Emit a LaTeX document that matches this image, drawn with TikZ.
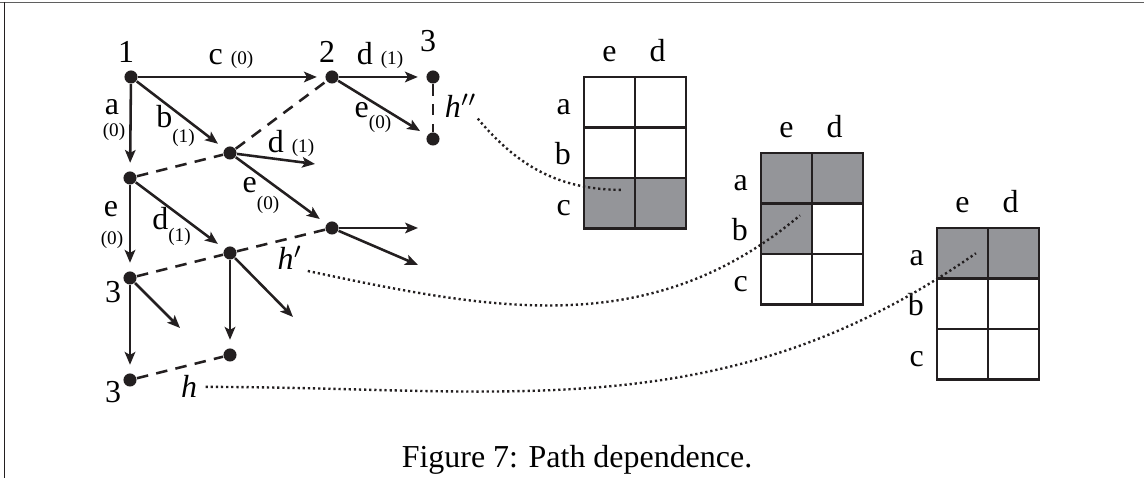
\documentclass[tikz,border=0pt]{standalone}
\usepackage{fontspec}
\setmainfont{Liberation Serif}
\usepackage{tikz}
\usetikzlibrary{positioning,arrows.meta,calc,backgrounds}
\definecolor{inkBlack}{RGB}{35,31,32}
\definecolor{cellGray}{RGB}{148,149,153}
\definecolor{frameGray}{RGB}{95,95,95}
\newcommand{\sm}[1]{{\fontsize{6}{7}\selectfont #1}}

\begin{document}
\begin{tikzpicture}[x=0.011cm, y=-0.011cm,
  statenode/.style={circle, fill=inkBlack, inner sep=0pt, minimum size=4.1pt},
  move/.style={-{Stealth[length=4pt,width=3.3pt,inset=0.9pt]}, line width=0.8pt, draw=inkBlack},
  movenode/.style={move, shorten >=2.5pt},
  link/.style={line width=0.8pt, draw=inkBlack, dash pattern=on 3.6pt off 2.6pt},
  trace/.style={line width=0.75pt, draw=inkBlack, dash pattern=on 0.7pt off 0.9pt},
  lbl/.style={font=\fontsize{10}{12}\selectfont, inner sep=0pt, anchor=base},
  sublbl/.style={font=\fontsize{6}{7}\selectfont, inner sep=0pt, anchor=base},
  cell/.style={draw=inkBlack, line width=0.9pt, inner sep=0pt, minimum width=0.561cm, minimum height=0.555cm},
]

\useasboundingbox (0,0) rectangle (1144,478);

% page frame
\draw[frameGray, line width=0.5pt] (0,2.5) -- (1144,2.5);
\draw[inkBlack, line width=0.6pt] (4.5,2.5) -- (4.5,478);

% ===================================================================
% STATE TREE
% ===================================================================
\node[statenode] (s1)  at (131,77)  {};
\node[statenode] (s2)  at (332,77)  {};
\node[statenode] (s3)  at (433,77)  {};
\node[statenode] (s3b) at (433,139) {};
\node[statenode] (sb)  at (230,153) {};
\node[statenode] (sa)  at (130,178) {};
\node[statenode] (sc)  at (332,228) {};
\node[statenode] (sd)  at (230,253) {};
\node[statenode] (se)  at (130,278) {};
\node[statenode] (sf)  at (230,355) {};
\node[statenode] (sg)  at (130,380) {};

% open arrow ends
\coordinate (tipB)  at (315,164);
\coordinate (tipC1) at (418,228);
\coordinate (tipC2) at (418,265);
\coordinate (tipE)  at (180,328);
\coordinate (tipD)  at (293,317);

% moves
\draw[movenode] (s1) -- (s2);
\draw[movenode] (s2) -- (s3);
\draw[movenode] (s2) -- (s3b);
\draw[movenode] (s1) -- (sa);
\draw[movenode] (s1) -- (sb);
\draw[move] (sb) -- (tipB);
\draw[movenode] (sb) -- (sc);
\draw[move] (sc) -- (tipC1);
\draw[move] (sc) -- (tipC2);
\draw[movenode] (sa) -- (se);
\draw[movenode] (sa) -- (sd);
\draw[movenode] (se) -- (sg);
\draw[move] (se) -- (tipE);
\draw[movenode] (sd) -- (sf);
\draw[move] (sd) -- (tipD);

% same-history links
\draw[link] (sa) -- (sb) -- (s2);
\draw[link] (se) -- (sd) -- (sc);
\draw[link] (sg) -- (sf);
\draw[link] (s3) -- (s3b);

% state labels
\node[lbl] (lbl1)  at (126,63)  {1};
\node[lbl] (lbl2)  at (327,63)  {2};
\node[lbl] (lbl3)  at (428,52)  {3};
\node[lbl] (lbl3e) at (113,303) {3};
\node[lbl] (lbl3g) at (113,403) {3};

% move labels
\node[lbl] (lblC)  at (231,65)  {c \sm{(0)}};
\node[lbl] (lblD2) at (380,65)  {d \sm{(1)}};
\node[lbl] (lblE2) at (373,118) {e\raisebox{-3.4pt}{\sm{(0)}}};
\node[lbl] (lblA)  at (112,115) {a};
\node[sublbl] (lblA0) at (114,137) {(0)};
\node[lbl] (lblB)  at (175.5,128) {b\raisebox{-4.4pt}{\sm{(1)}}};
\node[lbl] (lblDb) at (291,153) {d \sm{(1)}};
\node[lbl] (lblEb) at (261,193) {e\raisebox{-5.3pt}{\sm{(0)}}};
\node[lbl] (lblE)  at (111,217) {e};
\node[sublbl] (lblE0) at (112,245) {(0)};
\node[lbl] (lblDa) at (171.5,230) {d\raisebox{-3.7pt}{\sm{(1)}}};

% histories
\node[lbl] (hpp) at (461,118) {\textit{h}$''$};
\node[lbl] (hp)  at (290,270) {\textit{h}$'$};
\node[lbl] (h)   at (189,398) {\textit{h}};

% ===================================================================
% TABLES
% ===================================================================
\foreach \tb/\tx/\ty in {1/584/77, 2/761/153, 3/937/228} {
  \foreach \row [count=\ri from 0] in {a,b,c} {
    \foreach \col [count=\ci from 0] in {e,d} {
      \node[cell] (T\tb-\row\col) at (\tx+25.5+51*\ci, \ty+25.25+50.5*\ri) {};
    }
    \node[lbl, anchor=base east] at ($(T\tb-\row e.west)+(-11,12)$) {\row};
  }
  \node[lbl] at ($(T\tb-ae.north)+(0,-14)$) {e};
  \node[lbl] at ($(T\tb-ad.north)+(-3,-14)$) {d};
}

\begin{scope}[on background layer]
  \foreach \n in {T1-ce,T1-cd,T2-ae,T2-ad,T2-be,T3-ae,T3-ad}
    \fill[cellGray] (\n.north west) rectangle (\n.south east);
\end{scope}

% history traces into the tables
\coordinate (hppEnd) at ($(T1-ce.center)!0.5!(T1-ce.north east)$);
\coordinate (hpEnd)  at ($(T2-be.center)!0.5!(T2-be.north east)$);
\coordinate (hEnd)   at ($(T3-ae.center)!0.5!(T3-ae.east)$);
\draw[trace] (hpp.south east) to[out=-50, in=180] (hppEnd);
\draw[trace, shorten <=1.5pt] (hp.base east) to[out=-12, in=220] (hpEnd);
\draw[trace, shorten <=2.5pt] (h.east) to[out=0, in=215] (hEnd);

% caption
\node[lbl] (caption) at (577,468) {Figure 7: Path dependence.};

\end{tikzpicture}
\end{document}
